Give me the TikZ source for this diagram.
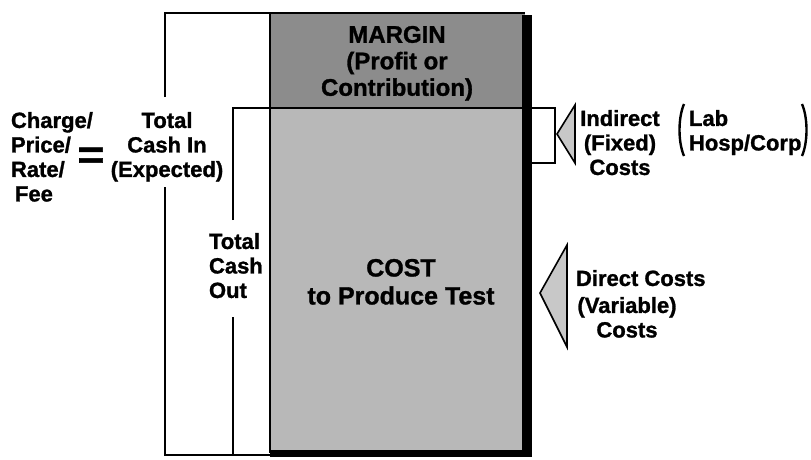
\documentclass[tikz,border=0pt]{standalone}
\usepackage{fontspec}
\setmainfont{Liberation Sans}[BoldFeatures={FakeBold=1.2}]
\definecolor{margingray}{RGB}{140,140,140}
\definecolor{costgray}{RGB}{184,184,184}
\definecolor{wedgegray}{RGB}{200,200,200}
\begin{document}
\begin{tikzpicture}[x=1pt,y=-1pt,line width=2pt,
  side/.style={font=\fontsize{22}{24.5}\selectfont\bfseries,inner sep=0pt},
  boxtext/.style={font=\fontsize{24}{26.5}\selectfont\bfseries,inner sep=0pt,align=center},
  wedge/.style={fill=wedgegray,draw=black,line width=1.6pt,line join=miter},
  frame/.style={draw=black,line width=2pt}]
\useasboundingbox (0,0) rectangle (811,459);

% shaded bar: margin on top, cost below
\fill[margingray] (270,13) rectangle (525,108);
\fill[costgray] (270,108) rectangle (525,453);
% drop shadow on right and bottom
\fill[black] (522,15) rectangle (532,457);
\fill[black] (270,450) rectangle (532,457);

% outer frame (total cash in)
\draw[frame] (165,97) -- (165,13) -- (525,13);
\draw[frame] (165,187) -- (165,455) -- (525,455);
% left border of the bar
\draw[frame] (270,13) -- (270,453);
% inner frame (total cash out) and the indirect-cost bracket
\draw[frame] (233,220) -- (233,108) -- (555,108) -- (555,163) -- (525,163);
\draw[frame] (233,317) -- (233,455);

% wedges pointing at the bar
\draw[wedge] (557,134) -- (575,105) -- (575,163) -- cycle;
\draw[wedge] (540,293) -- (567,245) -- (567,347) -- cycle;

% texts in the bar
\node[boxtext,anchor=north] (margin) at (397,25) {MARGIN\\(Profit or\\Contribution)};
\node[boxtext,anchor=north,font=\fontsize{25}{28}\selectfont\bfseries] (cost) at (401,258) {COST\\to Produce Test};

% left-hand labels
\node[side,anchor=north west,align=left] (charge) at (10,111) {Charge/\\Price/\\Rate/\\\hspace*{4pt}Fee};
\node[inner sep=0pt,xscale=1.15,font=\fontsize{40}{40}\selectfont\bfseries] (equals) at (91,158) {=};
\node[side,anchor=north,align=center] (cashin) at (167,111) {Total\\Cash In\\(Expected)};
\node[side,anchor=north west,align=left] (cashout) at (208,232) {Total\\Cash\\Out};

% right-hand labels
\node[side,anchor=north,align=center] (indirect) at (620,109) {Indirect\\(Fixed)\\Costs};
\node[side,anchor=north west,align=left] (labhosp) at (688,109) {Lab\\Hosp/Corp};
\draw[line width=2.4pt] (684,104) .. controls (678,118) and (678,142) .. (684,156);
\draw[line width=2.4pt] (802,104) .. controls (808,118) and (808,142) .. (802,156);
\node[side,anchor=north west,align=left] (direct) at (575,269) {Direct Costs};
\node[side,anchor=north,align=center] (variable) at (627,296) {(Variable)\\Costs};
\end{tikzpicture}
\end{document}
